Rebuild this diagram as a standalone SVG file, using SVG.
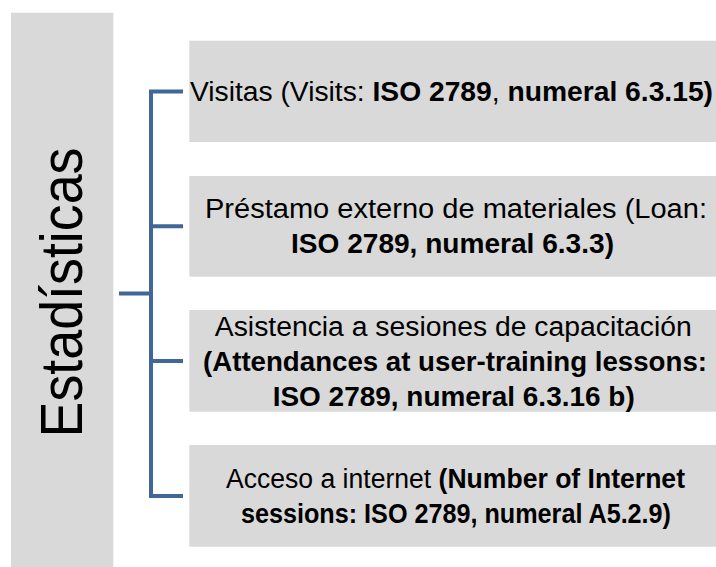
<svg xmlns="http://www.w3.org/2000/svg" width="716" height="567" viewBox="0 0 716 567">
<defs>
<style>
.box{fill:#D9D9D9;}
.t{font-family:"Liberation Sans",Arial,sans-serif;font-size:27px;fill:#000;}
.big{font-family:"Liberation Sans",Arial,sans-serif;font-size:59px;fill:#000;}
.b{font-weight:bold;}
.conn{fill:none;stroke:#41679A;stroke-width:4;stroke-linejoin:miter;stroke-linecap:butt;}
</style>
</defs>
<rect width="716" height="567" fill="#FFFFFF"/>
<g id="root">
<rect class="box" x="11" y="12.7" width="102.3" height="560"/>
<text class="big" text-anchor="middle" transform="translate(82,292.5) rotate(-90)" textLength="290" lengthAdjust="spacingAndGlyphs">Estadísticas</text>
</g>
<g id="connectors">
<path class="conn" d="M183,91.4 H151 V495.9 H183"/>
<path class="conn" d="M151,226.3 H183 M151,361 H183 M119,293.6 H151"/>
</g>
<g id="node1">
<rect class="box" x="189.3" y="40.7" width="532" height="101.3"/>
<text class="t" x="190" y="101" textLength="523" lengthAdjust="spacingAndGlyphs">Visitas (Visits: <tspan class="b">ISO 2789</tspan>, <tspan class="b">numeral 6.3.15)</tspan></text>
</g>
<g id="node2">
<rect class="box" x="189.3" y="176" width="532" height="100.7"/>
<text class="t" x="456" y="217.7" text-anchor="middle" textLength="502" lengthAdjust="spacingAndGlyphs">Préstamo externo de materiales (Loan:</text>
<text class="t b" x="452.5" y="252.7" text-anchor="middle" textLength="323" lengthAdjust="spacingAndGlyphs">ISO 2789, numeral 6.3.3)</text>
</g>
<g id="node3">
<rect class="box" x="189.3" y="310" width="532" height="101.7"/>
<text class="t" x="453.3" y="336" text-anchor="middle" textLength="477" lengthAdjust="spacingAndGlyphs">Asistencia a sesiones de capacitación</text>
<text class="t b" x="455" y="371" text-anchor="middle" textLength="504" lengthAdjust="spacingAndGlyphs">(Attendances at user-training lessons:</text>
<text class="t b" x="453.7" y="406" text-anchor="middle" textLength="362" lengthAdjust="spacingAndGlyphs">ISO 2789, numeral 6.3.16 b)</text>
</g>
<g id="node4">
<rect class="box" x="189.3" y="445" width="532" height="101.7"/>
<text class="t" x="455.5" y="488" text-anchor="middle" textLength="459" lengthAdjust="spacingAndGlyphs">Acceso a internet <tspan class="b">(Number of Internet</tspan></text>
<text class="t b" x="456" y="523" text-anchor="middle" textLength="430" lengthAdjust="spacingAndGlyphs">sessions: ISO 2789, numeral A5.2.9)</text>
</g>
</svg>
